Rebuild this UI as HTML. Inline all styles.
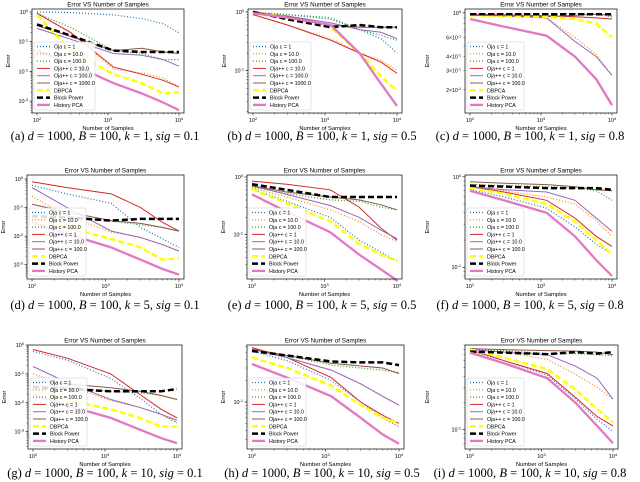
<!DOCTYPE html>
<html><head><meta charset="utf-8"><style>
html,body{margin:0;padding:0;background:#fff;width:640px;height:482px;overflow:hidden}
svg text{font-family:"Liberation Sans",sans-serif}
svg text.cap{font-family:"Liberation Serif",serif}
</style></head><body>
<svg id="fig" width="640" height="482" xmlns="http://www.w3.org/2000/svg"></svg>
<script>
const xSamples=[100,300,1200,3000,6000,10000];
const seriesNames=["oja-c1","oja-c10","oja-c100","ojapp-a","ojapp-b","ojapp-c","dbpca","block-power","history-pca"];
const legendLabelsA=["Oja c = 1","Oja c = 10.0","Oja c = 100.0","Oja++ c = 10.0","Oja++ c = 100.0","Oja++ c = 1000.0","DBPCA","Block Power","History PCA"];
const legendLabelsB=["Oja c = 1","Oja c = 10.0","Oja c = 100.0","Oja++ c = 1","Oja++ c = 10.0","Oja++ c = 100.0","DBPCA","Block Power","History PCA"];
const panelLetters=["a","b","c","d","e","f","g","h","i"];
const panelK=[1,1,1,5,5,5,10,10,10];
const panelSig=["0.1","0.5","0.8","0.1","0.5","0.8","0.1","0.5","0.8"];
const panelYLo=[-3.4,-1.72,-0.91,-3.5,-1.77,-1.13,-3.6,-1.66,-1.22];
const panelYHi=[0.1,0.05,0.035,0.14,0.035,0.02,0.0,-0.2,-0.045];
const dataA=[[1,0.95,0.8,0.6,0.4,0.2],[0.9,0.2,0.012,0.009,0.006,0.003],[0.9,0.3,0.05,0.04,0.025,0.025],[0.9,0.2,0.014,0.008,0.005,0.003],[0.28,0.12,0.04,0.035,0.025,0.015],[0.35,0.15,0.05,0.06,0.045,0.04],[0.8,0.05,0.008,0.004,0.0018,0.002],[0.38,0.16,0.05,0.045,0.045,0.045],[0.05,0.018,0.004,0.0018,0.0009,0.0005]];
const dataB=[[1,0.9,0.75,0.5,0.35,0.2],[0.9,0.6,0.35,0.2,0.15,0.1],[1,0.9,0.8,0.5,0.4,0.33],[0.9,0.6,0.33,0.2,0.14,0.09],[1,0.85,0.65,0.5,0.45,0.35],[1,0.85,0.6,0.55,0.55,0.55],[1,0.8,0.55,0.2,0.08,0.045],[1,0.75,0.55,0.6,0.55,0.55],[0.95,0.8,0.6,0.2,0.06,0.025]];
const dataC=[[0.98,0.98,0.97,0.98,0.98,0.92],[0.95,0.93,0.9,0.6,0.42,0.27],[0.98,0.98,0.98,0.98,0.97,0.92],[0.97,0.96,0.94,0.92,0.9,0.88],[0.96,0.94,0.9,0.55,0.4,0.27],[0.95,0.94,0.92,0.95,0.97,0.95],[0.95,0.94,0.92,0.88,0.8,0.6],[0.97,0.97,0.97,0.97,0.97,0.97],[0.88,0.75,0.62,0.4,0.25,0.145]];
const dataD=[[0.6,0.3,0.14,0.02,0.008,0.004],[0.25,0.05,0.014,0.009,0.005,0.003],[0.07,0.05,0.033,0.025,0.02,0.015],[0.8,0.5,0.3,0.1,0.03,0.015],[0.5,0.1,0.015,0.009,0.005,0.003],[0.13,0.07,0.035,0.028,0.02,0.015],[0.05,0.02,0.008,0.004,0.0015,0.0017],[0.05,0.045,0.035,0.04,0.04,0.04],[0.03,0.012,0.004,0.0015,0.0007,0.00045]];
const dataE=[[0.62,0.38,0.2,0.08,0.05,0.035],[0.65,0.45,0.27,0.17,0.1,0.075],[0.68,0.52,0.4,0.38,0.3,0.27],[0.85,0.75,0.6,0.3,0.13,0.08],[0.7,0.5,0.32,0.2,0.12,0.085],[0.7,0.55,0.45,0.4,0.33,0.27],[0.62,0.35,0.17,0.07,0.045,0.035],[0.75,0.6,0.45,0.45,0.45,0.45],[0.5,0.25,0.11,0.045,0.025,0.016]];
const dataF=[[0.72,0.6,0.45,0.28,0.18,0.14],[0.78,0.7,0.6,0.5,0.33,0.22],[0.82,0.8,0.78,0.75,0.7,0.55],[0.78,0.68,0.55,0.35,0.22,0.17],[0.78,0.72,0.68,0.55,0.35,0.25],[0.88,0.85,0.82,0.78,0.72,0.7],[0.75,0.65,0.5,0.32,0.2,0.14],[0.8,0.78,0.75,0.75,0.75,0.72],[0.7,0.55,0.4,0.22,0.12,0.08]];
const dataG=[[0.6,0.3,0.07,0.015,0.004,0.002],[0.1,0.04,0.012,0.007,0.004,0.0022],[0.04,0.035,0.025,0.022,0.018,0.013],[0.7,0.35,0.1,0.02,0.006,0.003],[0.18,0.05,0.013,0.007,0.004,0.0025],[0.06,0.045,0.033,0.025,0.018,0.013],[0.03,0.012,0.006,0.003,0.0015,0.0015],[0.035,0.03,0.025,0.025,0.025,0.03],[0.02,0.008,0.003,0.0012,0.0006,0.0004]];
const dataH=[[0.52,0.38,0.2,0.1,0.06,0.045],[0.55,0.42,0.28,0.18,0.12,0.09],[0.55,0.45,0.33,0.3,0.28,0.26],[0.58,0.42,0.22,0.1,0.065,0.05],[0.55,0.42,0.28,0.18,0.12,0.09],[0.55,0.45,0.35,0.32,0.3,0.25],[0.42,0.3,0.17,0.09,0.06,0.05],[0.52,0.45,0.37,0.36,0.36,0.33],[0.34,0.22,0.12,0.06,0.035,0.026]];
const dataI=[[0.78,0.6,0.41,0.22,0.13,0.095],[0.82,0.75,0.62,0.42,0.3,0.22],[0.8,0.78,0.72,0.72,0.7,0.68],[0.8,0.6,0.43,0.23,0.14,0.11],[0.8,0.75,0.7,0.52,0.38,0.22],[0.82,0.8,0.78,0.77,0.75,0.7],[0.8,0.65,0.48,0.28,0.17,0.12],[0.76,0.74,0.71,0.75,0.72,0.75],[0.74,0.56,0.38,0.2,0.11,0.07]];
const allData=[dataA,dataB,dataC,dataD,dataE,dataF,dataG,dataH,dataI];

const NS="http://www.w3.org/2000/svg";
const svg=document.getElementById('fig');
function el(tag,attrs,parent){const e=document.createElementNS(NS,tag);for(const k in attrs)e.setAttribute(k,attrs[k]);(parent||svg).appendChild(e);return e;}
const styles=[
 {c:"#1f77b4",w:1.2,d:"1,2"},{c:"#ff7f0e",w:1.2,d:"1,2"},{c:"#2ca02c",w:1.2,d:"1,2"},
 {c:"#d62728",w:1,d:""},{c:"#9467bd",w:1,d:""},{c:"#8c564b",w:1,d:""},
 {c:"#ffff00",w:2.5,d:"6,3"},{c:"#000000",w:2.5,d:"6,3"},{c:"#e377c2",w:2.3,d:""}];
const lefts=[32,248,465,27,247,465,28,247,465];
const rights=[184,402,617,184,402,617,182,404,618];
const tops=[9,9,9,175,175,175,345,345,345];
const H=104;
const capCenters=[105,322,530];
const capY=[140,309,477];

function sup(parent,x,y,base,exp,anchor,size){
  const tx=el('text',{x:x,y:y,'font-size':size,'text-anchor':anchor,fill:'#000'},parent);
  tx.textContent=base;
  const s=el('tspan',{dy:-2,'font-size':size*0.7},tx);s.textContent=exp;
  return tx;
}

for(let p=0;p<9;p++){
  const g=el('g',{});
  
  
  const L=lefts[p],R=rights[p],T=tops[p],B=T+H;
  const x0=L+5,x1=R-5;
  const xs=v=>x0+(Math.log10(v)-2)/2*(x1-x0);
  const lo=panelYLo[p],hi=panelYHi[p];
  const ys=v=>T+(hi-Math.log10(v))/(hi-lo)*H;
  const title=el('text',{x:(L+R)/2,y:T-2.5,'font-size':6.3,'text-anchor':'middle'},g);
  title.textContent='Error VS Number of Samples';
  
  
  for(let e=2;e<=4;e++){
    const X=xs(Math.pow(10,e));
    el('line',{x1:X,x2:X,y1:B,y2:B+2.5,stroke:'#000','stroke-width':0.6},g);
    const t=sup(g,X,B+9,'10',String(e),'middle',5.5);
    
    
    if(e<4)for(let m=2;m<10;m++){const Xm=xs(m*Math.pow(10,e));el('line',{x1:Xm,x2:Xm,y1:B,y2:B+1.5,stroke:'#000','stroke-width':0.4},g);}
  }
  const xl=el('text',{x:(L+R)/2,y:B+17,'font-size':5.8,'text-anchor':'middle'},g);
  xl.textContent='Number of Samples';
  
  
  for(let e=-4;e<=0;e++){
    for(let m=1;m<10;m++){
      const v=m*Math.pow(10,e),lv=Math.log10(v);
      if(lv<lo-1e-6||lv>hi+1e-6)continue;
      const Y=ys(v);
      el('line',{x1:L,x2:L-(m==1?2.5:1.5),y1:Y,y2:Y,stroke:'#000','stroke-width':m==1?0.6:0.4},g);
      const showMinor=(p==2&&(m==2||m==3||m==4||m==6));
      if(m==1){const t=sup(g,L-4,Y+2,'10',String(e),'end',5.5);}
      else if(showMinor){const t=sup(g,L-4,Y+2,m+'\u00d710',String(e),'end',5.2);}
    }
  }
  const yl=el('text',{x:0,y:0,'font-size':5.8,'text-anchor':'middle',transform:`translate(${L-(p==2||p==5||p==8?36:22)},${T+H/2}) rotate(-90)`},g);
  yl.textContent='Error';
  
  
  const d=allData[p];
  for(let s=0;s<9;s++){
    const pts=xSamples.map((x,i)=>xs(x).toFixed(1)+','+ys(d[s][i]).toFixed(1)).join(' ');
    const pl=el('polyline',{points:pts,fill:'none',stroke:styles[s].c,'stroke-width':styles[s].w,'stroke-dasharray':styles[s].d},g);
    
    
  }
  el('rect',{x:L,y:T,width:R-L,height:H,fill:'none',stroke:'#000','stroke-width':0.7},g);
  const labels=(p<2)?legendLabelsA:legendLabelsB;
  const lg=el('g',{},g);
  
  
  const lh=68,lt=B-lh-3,lw=p<2?61:57;
  el('rect',{x:L+2,y:lt,width:lw,height:lh,fill:'#fff','fill-opacity':0.85,stroke:'#ccc','stroke-width':0.5,rx:1.5},lg);
  for(let s=0;s<9;s++){
    const Y=lt+4.5+s*7.3;
    el('line',{x1:L+5,x2:L+18,y1:Y,y2:Y,stroke:styles[s].c,'stroke-width':styles[s].w,'stroke-dasharray':styles[s].d},lg);
    const t=el('text',{x:L+22,y:Y+2,'font-size':5.3},lg);
    t.textContent=labels[s];
    
    
  }
  const col=p%3,row=Math.floor(p/3);
  const cap=el('text',{x:capCenters[col],y:capY[row],'font-size':12.5,'text-anchor':'middle','class':'cap'},g);
  
  
  cap.innerHTML=`(${panelLetters[p]}) <tspan font-style="italic">d</tspan> = 1000, <tspan font-style="italic">B</tspan> = 100, <tspan font-style="italic">k</tspan> = ${panelK[p]}, <tspan font-style="italic">sig</tspan> = ${panelSig[p]}`;
}
</script>
</body></html>
